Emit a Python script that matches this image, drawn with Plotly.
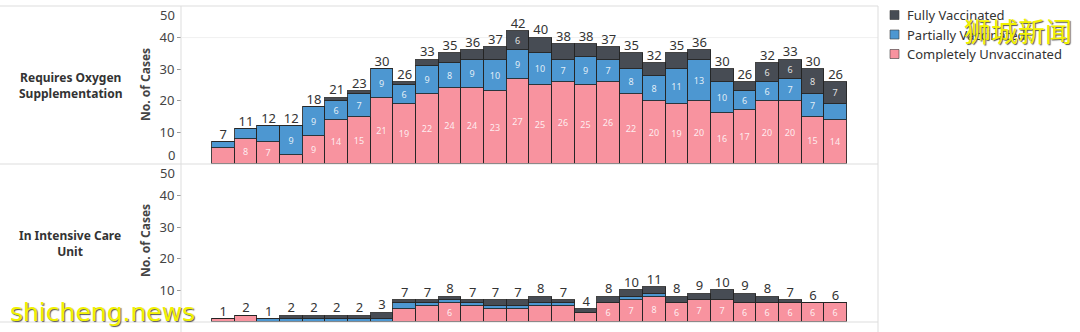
import plotly.graph_objects as go

# ---------------- data ----------------
weeks = list(range(28))
oxy_unvacc = [5, 8, 7, 3, 9, 14, 15, 21, 19, 22, 24, 24, 23, 27, 25, 26, 25, 26, 22, 20, 19, 20, 16, 17, 20, 20, 15, 14]
oxy_partial = [2, 3, 5, 9, 9, 6, 7, 9, 6, 9, 8, 9, 10, 9, 10, 7, 9, 7, 8, 8, 11, 13, 10, 6, 6, 7, 7, 5]
oxy_full = [0, 0, 0, 0, 0, 1, 1, 0, 1, 2, 3, 3, 4, 6, 5, 5, 4, 4, 5, 4, 5, 3, 4, 3, 6, 6, 8, 7]

icu_unvacc = [1, 2, 0, 0, 0, 0, 0, 0, 4, 5, 6, 5, 4, 4, 5, 5, 3, 6, 7, 8, 6, 7, 7, 6, 6, 6, 6, 6]
icu_partial = [0, 0, 1, 1, 1, 1, 1, 1, 2, 1, 1, 1, 1, 1, 1, 1, 0, 0, 1, 1, 0, 0, 0, 0, 0, 0, 0, 0]
icu_full = [0, 0, 0, 1, 1, 1, 1, 2, 1, 1, 1, 1, 2, 2, 2, 1, 1, 2, 2, 2, 2, 2, 3, 3, 2, 1, 0, 0]

series_names = ["Completely Unvaccinated", "Partially Vaccinated", "Fully Vaccinated"]
colors = ["#f8939f", "#4d97d1", "#474c54"]
row_labels = ["Requires Oxygen<br>Supplementation", "In Intensive Care<br>Unit"]
y_title = "No. of Cases"
tick_vals = [10, 20, 30, 40]

# ---------------- layout geometry (pixels) ----------------
W, H = 1080, 332
L, R, T, B = 182, 202, 6, 10
PW, PH = W - L - R, H - T - B


def px(x):
    return (x - L) / PW


def py(y):
    return (H - B - y) / PH


FONT = "Noto Sans"
fig = go.Figure()

panels = [
    ("y", [oxy_unvacc, oxy_partial, oxy_full]),
    ("y2", [icu_unvacc, icu_partial, icu_full]),
]
for yref, data in panels:
    for name, vals, col in zip(series_names, data, colors):
        fig.add_trace(go.Bar(
            x=weeks, y=vals, name=name, yaxis=yref,
            marker=dict(color=col, line=dict(color="rgba(35,35,35,0.85)", width=1)),
            text=[str(v) if v > 0 else "" for v in vals],
            textposition="inside", insidetextanchor="middle", textangle=0,
            textfont=dict(size=9, color="rgba(255,255,255,0.85)", family=FONT),
            showlegend=False, hoverinfo="skip",
        ))
    totals = [a + b + c for a, b, c in zip(*data)]
    fig.add_trace(go.Scatter(
        x=weeks, y=totals, yaxis=yref, mode="text",
        text=[str(t) for t in totals], textposition="top center",
        textfont=dict(size=13, color="#333333", family=FONT),
        showlegend=False, hoverinfo="skip", cliponaxis=False,
    ))

axis_common = dict(
    range=[0, 50], tickvals=tick_vals, ticks="outside", ticklen=4,
    tickcolor="#999", showgrid=False, zeroline=False, showline=False,
    tickfont=dict(size=13, color="#444", family=FONT),
)

fig.update_layout(
    width=W, height=H,
    margin=dict(l=L, r=R, t=T, b=B),
    paper_bgcolor="white", plot_bgcolor="white",
    barmode="stack", bargap=0,
    uniformtext=dict(minsize=8, mode="hide"),
    xaxis=dict(range=[-1.82, 28.87], visible=False),
    yaxis=dict(domain=[0.5, 1], **axis_common),
    yaxis2=dict(domain=[0, 0.5], **axis_common),
    showlegend=False,
)

# faint gridline at 40 on top panel
fig.add_shape(type="line", xref="paper", yref="y", x0=0, x1=1, y0=40, y1=40,
              line=dict(color="#f0f0f0", width=1), layer="below")

# separators
line_col = "#dddddd"
for yy in [6, 164, 322]:
    fig.add_shape(type="line", xref="paper", yref="paper", x0=px(0), x1=px(878),
                  y0=py(yy), y1=py(yy), line=dict(color=line_col, width=1))
for xx in [181, 878]:
    fig.add_shape(type="line", xref="paper", yref="paper", x0=px(xx), x1=px(xx),
                  y0=py(6), y1=py(H), line=dict(color=line_col, width=1))

annos = []
# manual legend (Fully, Partially, Completely from top)
for i, (name, col) in enumerate(zip(series_names[::-1], colors[::-1])):
    yc = 15 + i * 19.5
    fig.add_shape(type="rect", xref="paper", yref="paper",
                  x0=px(890), x1=px(899), y0=py(yc - 4.5), y1=py(yc + 4.5),
                  fillcolor=col, line=dict(color="rgba(60,60,60,0.6)", width=1))
    annos.append(dict(text=name, x=px(905), y=py(yc), xref="paper", yref="paper",
                      xanchor="left", yanchor="middle", showarrow=False,
                      font=dict(size=13, color="#333", family=FONT)))
# row headers
for lab, yc in zip(row_labels, [85, 243]):
    annos.append(dict(text="<b>" + lab + "</b>", x=px(70), y=py(yc), xref="paper", yref="paper",
                      xanchor="center", yanchor="middle",
                      showarrow=False, font=dict(size=12, color="#333", family=FONT), align="center"))
# axis titles
for yc in [85, 241]:
    annos.append(dict(text="<b>" + y_title + "</b>", x=px(145), y=py(yc), xref="paper", yref="paper",
                      xanchor="center", yanchor="middle",
                      showarrow=False, textangle=-90, font=dict(size=12, color="#444", family=FONT)))
# shifted end labels (0 / 50)
for lab, yc in [("50", 15), ("0", 155), ("50", 173), ("50", 338)]:
    annos.append(dict(text=lab, x=px(177), y=py(yc), xref="paper", yref="paper",
                      xanchor="right", yanchor="middle",
                      showarrow=False, font=dict(size=13, color="#444", family=FONT)))
# watermarks
annos.append(dict(text="shicheng.news", x=px(8), y=py(312), xref="paper", yref="paper",
                  xanchor="left", yanchor="middle", showarrow=False,
                  font=dict(size=25, color="#f2f200", family="DejaVu Sans", shadow="1px 1px 1px #555")))
annos.append(dict(text="狮城新闻", x=px(1018), y=py(31), xref="paper", yref="paper",
                  xanchor="center", yanchor="middle", showarrow=False,
                  font=dict(size=27, color="#f2f200", family="Noto Sans CJK SC", shadow="1px 1px 1px #555")))
fig.update_layout(annotations=annos)

fig.write_html("out.html")
